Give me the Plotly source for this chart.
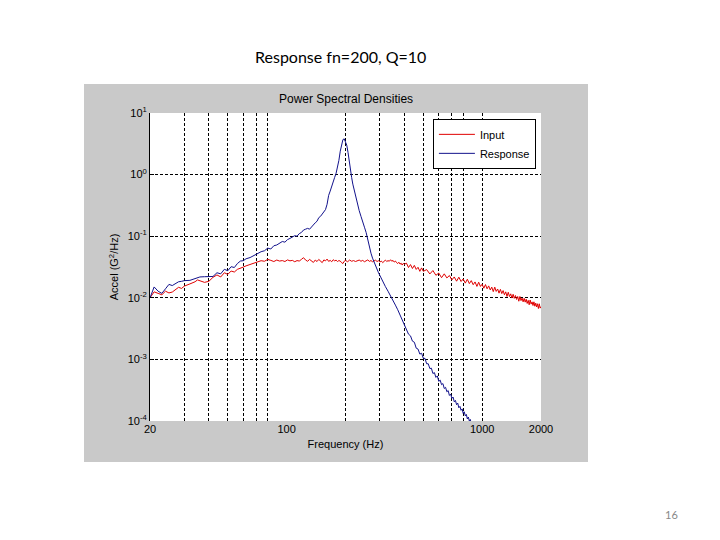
import plotly.graph_objects as go

# ---------------- data ----------------
input_freq = [20, 21, 22, 23, 24, 25, 26, 27, 28, 29, 30, 32, 34, 35, 36, 38, 40, 42, 44, 46, 48, 50,
              52, 54, 56, 58, 60, 62, 65, 68, 71, 74, 77, 80, 83, 86, 89, 92, 95, 98, 101, 104, 107,
              110, 113, 116, 119, 122, 125, 128, 131, 134, 137, 140, 143, 146, 149, 152, 155, 158,
              161, 164, 167, 170, 173, 176, 179, 182, 185, 188, 191, 194, 197, 200, 205, 210, 215,
              220, 225, 230, 235, 240, 245, 250, 255, 260, 265, 270, 275, 280, 285, 290, 295, 300,
              305, 310, 315, 320, 325, 330, 335, 340, 345, 350, 355, 360, 365, 370, 375, 380, 385,
              390, 395, 400, 410, 420, 430, 440, 450, 460, 470, 480, 490, 500, 520, 540, 560, 580,
              600, 620, 640, 660, 680, 700, 720, 740, 760, 780, 800, 820, 840, 860, 880, 900, 920,
              940, 960, 980, 1000, 1020, 1040, 1060, 1080, 1100, 1120, 1140, 1160, 1180, 1200, 1220,
              1240, 1260, 1280, 1300, 1320, 1340, 1360, 1380, 1400, 1420, 1440, 1460, 1480, 1500,
              1520, 1540, 1560, 1580, 1600, 1620, 1640, 1660, 1680, 1700, 1720, 1740, 1760, 1780,
              1800, 1820, 1840, 1860, 1880, 1900, 1920, 1940, 1960, 1980, 2000]
input_psd = [0.0100, 0.0125, 0.0118, 0.0112, 0.0128, 0.0120, 0.0124, 0.0135, 0.0148, 0.0142, 0.0155,
             0.0168, 0.0182, 0.0195, 0.0190, 0.0178, 0.0185, 0.0215, 0.0235, 0.0218, 0.0255, 0.0240,
             0.0272, 0.0262, 0.0290, 0.0300, 0.0315, 0.0330, 0.0345, 0.0362, 0.0385, 0.0400, 0.0392,
             0.0420, 0.0405, 0.0388, 0.0410, 0.0395, 0.0402, 0.0388, 0.0412, 0.0398, 0.0405, 0.0385,
             0.0402, 0.0395, 0.0420, 0.0448, 0.0410, 0.0392, 0.0420, 0.0398, 0.0375, 0.0410, 0.0388,
             0.0420, 0.0395, 0.0372, 0.0412, 0.0398, 0.0425, 0.0390, 0.0405, 0.0385, 0.0415, 0.0398,
             0.0408, 0.0388, 0.0402, 0.0395, 0.0372, 0.0360, 0.0392, 0.0405, 0.0385, 0.0410, 0.0392,
             0.0402, 0.0388, 0.0398, 0.0410, 0.0392, 0.0405, 0.0385, 0.0398, 0.0412, 0.0390, 0.0402,
             0.0385, 0.0395, 0.0408, 0.0388, 0.0400, 0.0380, 0.0395, 0.0372, 0.0398, 0.0410, 0.0388,
             0.0402, 0.0392, 0.0415, 0.0392, 0.0405, 0.0380, 0.0395, 0.0372, 0.0360, 0.0378, 0.0352,
             0.0365, 0.0340, 0.0362, 0.0350, 0.0365, 0.0310, 0.0346, 0.0299, 0.0336, 0.0289, 0.0313,
             0.0269, 0.0306, 0.0269, 0.0287, 0.0244, 0.0277, 0.0232, 0.0252, 0.0212, 0.0245, 0.0210,
             0.0230, 0.0195, 0.0218, 0.0186, 0.0216, 0.0184, 0.0202, 0.0173, 0.0200, 0.0170, 0.0190,
             0.0163, 0.0181, 0.0153, 0.0179, 0.0153, 0.0166, 0.0143, 0.0164, 0.0140, 0.0156, 0.0134,
             0.0149, 0.0126, 0.0149, 0.0127, 0.0139, 0.0119, 0.0137, 0.0117, 0.0131, 0.0112, 0.0125,
             0.0105, 0.0123, 0.0105, 0.0116, 0.0099, 0.0114, 0.0098, 0.0109, 0.0094, 0.0105, 0.0088,
             0.0105, 0.0090, 0.0099, 0.0086, 0.0098, 0.0085, 0.0095, 0.0081, 0.0091, 0.0077, 0.0092,
             0.0079, 0.0086, 0.0075, 0.0086, 0.0073, 0.0082, 0.0071, 0.0080, 0.0067, 0.0080, 0.0068,
             0.0072]

response_freq = [20, 21, 22, 23, 24, 25, 26, 27, 28, 29, 30, 32, 34, 36, 38, 40, 42, 44, 46, 48, 50,
                 52, 54, 56, 58, 60, 62, 65, 68, 71, 74, 77, 80, 83, 86, 89, 92, 95, 98, 101, 104,
                 107, 110, 113, 116, 119, 122, 125, 128, 131, 134, 137, 140, 143, 146, 149, 152, 155,
                 158, 161, 164, 167, 170, 173, 176, 179, 182, 185, 188, 191, 194, 197, 200, 203, 206,
                 209, 212, 215, 218, 221, 225, 230, 235, 240, 245, 250, 255, 260, 265, 270, 275, 280,
                 285, 290, 295, 300, 310, 320, 330, 340, 350, 360, 370, 380, 390, 400, 410, 420, 430,
                 440, 450, 460, 470, 480, 490, 500, 510, 520, 530, 540, 550, 560, 570, 580, 590, 600,
                 610, 620, 630, 640, 650, 660, 670, 680, 690, 700, 710, 720, 730, 740, 750, 760, 770,
                 780, 790, 800, 810, 820, 830, 840, 850, 860, 870, 880, 890, 900]
response_psd = [0.0100, 0.0150, 0.0128, 0.0118, 0.0140, 0.0165, 0.0158, 0.0170, 0.0182, 0.0185,
                0.0190, 0.0192, 0.0205, 0.0218, 0.0220, 0.0220, 0.0222, 0.0255, 0.0245, 0.0290,
                0.0275, 0.0320, 0.0310, 0.0360, 0.0395, 0.0400, 0.0430, 0.0450, 0.0490, 0.0520,
                0.0560, 0.0580, 0.0640, 0.0620, 0.0700, 0.0720, 0.0760, 0.0820, 0.0800, 0.0880,
                0.0920, 0.0960, 0.1020, 0.1000, 0.1100, 0.1150, 0.1260, 0.1300, 0.1340, 0.1300,
                0.1420, 0.1500, 0.1650, 0.1750, 0.2000, 0.2100, 0.2300, 0.2550, 0.2700, 0.3300,
                0.4600, 0.5400, 0.6600, 0.7600, 0.9000, 1.0500, 1.3000, 1.7000, 2.4000, 3.2000,
                3.7000, 3.8000, 3.3000, 3.0000, 2.3000, 1.6000, 1.1500, 0.9000, 0.7000, 0.5800,
                0.4500, 0.3300, 0.2600, 0.2100, 0.1650, 0.1400, 0.1150, 0.0850, 0.0680, 0.0530,
                0.0440, 0.0380, 0.0320, 0.0285, 0.0255, 0.0230, 0.0180, 0.0152, 0.0128, 0.0105,
                0.0090, 0.0076, 0.0064, 0.0053, 0.0043, 0.00360, 0.00322, 0.00257, 0.00241, 0.00198,
                0.00190, 0.00152, 0.00147, 0.00122, 0.00126, 0.00104, 0.00104, 0.00085, 0.00085,
                0.00071, 0.00072, 0.00059, 0.00061, 0.00051, 0.00054, 0.00044, 0.000461, 0.000389,
                0.000405, 0.000337, 0.000352, 0.000298, 0.000312, 0.000260, 0.000273, 0.000233,
                0.000245, 0.000205, 0.000216, 0.000184, 0.000195, 0.000164, 0.000173, 0.000149,
                0.000157, 0.000133, 0.000141, 0.000121, 0.000128, 0.000108, 0.000116, 0.0000998,
                0.000106, 0.0000893, 0.0000955, 0.0000830]

x_tick_vals = [20, 100, 1000, 2000]
x_tick_text = ["20", "100", "1000", "2000"]
x_grid_vals = [30, 40, 50, 60, 70, 80, 200, 300, 400, 500, 600, 700, 800, 1000, 2000]
y_tick_vals = [1e-4, 1e-3, 1e-2, 1e-1, 1e0, 1e1]
y_tick_text = ["10<sup>-4</sup>", "10<sup>-3</sup>", "10<sup>-2</sup>",
               "10<sup>-1</sup>", "10<sup>0</sup>", "10<sup>1</sup>"]
y_grid_vals = [1e-3, 1e-2, 1e-1, 1e0, 1e1]

# ---------------- figure ----------------
FONT = "Liberation Sans, Arial, sans-serif"
fig = go.Figure()
fig.add_trace(go.Scatter(x=input_freq, y=input_psd, mode="lines", name="Input",
                         line=dict(color="#e00000", width=1)))
fig.add_trace(go.Scatter(x=response_freq, y=response_psd, mode="lines", name="Response",
                         line=dict(color="#12128c", width=1)))

GRID_DASH = "3px,2px"
fig.update_layout(
    width=720, height=540, autosize=False,
    margin=dict(l=142, r=187, t=105, b=127),
    paper_bgcolor="white",
    plot_bgcolor="rgba(0,0,0,0)",
    font=dict(family=FONT, size=11, color="black"),
    showlegend=True,
    legend=dict(x=0.987, xanchor="right", y=0.981, yanchor="top",
                bgcolor="white", bordercolor="black", borderwidth=1,
                font=dict(family=FONT, size=11, color="black"),
                itemwidth=36, tracegroupgap=0),
    shapes=[
        dict(type="rect", xref="paper", yref="paper", x0=-0.1688, x1=1.1202,
             y0=-0.1331, y1=1.0942, fillcolor="#c9c9c9", line=dict(width=0), layer="below"),
        dict(type="rect", xref="paper", yref="paper", x0=0, x1=1, y0=0, y1=1,
             fillcolor="white", line=dict(width=0), layer="below"),
    ],
    annotations=[
        dict(text="Power Spectral Densities", xref="paper", yref="paper", x=0.5, y=1.045,
             showarrow=False, font=dict(family=FONT, size=12, color="black"),
             xanchor="center", yanchor="middle"),
        dict(text="Response fn=200, Q=10", xref="paper", yref="paper", x=0.487, y=1.182,
             showarrow=False, font=dict(family="Lato, Open Sans, sans-serif", size=16, color="black"),
             xanchor="center", yanchor="middle"),
        dict(text="16", xref="paper", yref="paper", x=1.3325, y=-0.305,
             showarrow=False, font=dict(family="Lato, Open Sans, sans-serif", size=11, color="#888888"),
             xanchor="center", yanchor="middle"),
    ],
)

fig.update_xaxes(
    type="log", range=[1.30103, 3.30103],
    tickvals=x_tick_vals, ticktext=x_tick_text, ticks="",
    showgrid=False, zeroline=False, showline=False,
    tickfont=dict(family=FONT, size=11, color="black"),
    title=dict(text="Frequency (Hz)", font=dict(family=FONT, size=11, color="black"), standoff=6),
    minor=dict(tickvals=x_grid_vals, showgrid=True, gridcolor="black", gridwidth=1,
               griddash=GRID_DASH, ticks=""),
)
fig.update_yaxes(
    type="log", range=[-4, 1],
    tickvals=y_tick_vals, ticktext=y_tick_text, ticks="inside", ticklen=4, tickcolor="black",
    showgrid=False, zeroline=False, showline=True, linecolor="black", linewidth=1,
    tickfont=dict(family=FONT, size=11, color="black"),
    title=dict(text="Accel (G<sup>2</sup>/Hz)", font=dict(family=FONT, size=11, color="black"), standoff=6),
    minor=dict(tickvals=y_grid_vals, showgrid=True, gridcolor="black", gridwidth=1,
               griddash=GRID_DASH, ticks=""),
)

fig.write_html("out.html")
